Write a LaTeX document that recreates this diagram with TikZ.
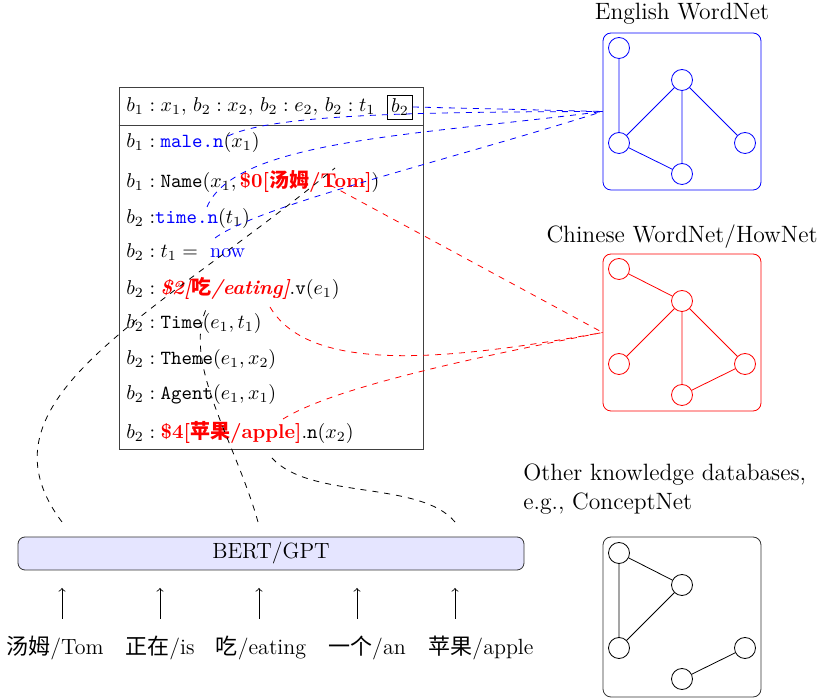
\documentclass[tikz,border=0pt]{standalone}
\usepackage{fontspec}
\newfontfamily\cjk{Noto Sans CJK SC}
\usetikzlibrary{calc}
\begin{document}
\begin{tikzpicture}[x=0.5pt,y=-0.5pt,
  gnode/.style={circle, draw, minimum size=10.5pt, inner sep=0pt},
  kbox/.style={draw, rounded corners=4pt, minimum width=79pt, minimum height=78.5pt},
  row/.style={anchor=west, inner sep=0pt, font=\fontsize{10}{12}\selectfont},
  lbl/.style={inner sep=0pt, font=\fontsize{11}{13.5}\selectfont},
  kbl/.style={inner sep=0pt, font=\fontsize{11.8}{14.2}\selectfont},
  blink/.style={draw=blue, dashed},
  rlink/.style={draw=red, dashed},
  klink/.style={draw=black, dashed},
  arr/.style={->}]
\useasboundingbox (0,0) rectangle (820,699);

% ---------- DRS box ----------
\node[draw=black!75, minimum width=152pt, minimum height=181pt, inner sep=0pt] (drs) at (271,268) {};
\draw[black!75] ($(drs.north west)+(0,39)$) coordinate (hl) -- ($(drs.north east)+(0,39)$) coordinate (hr);
\node[row] (hdr) at (126,107) {$b_1 : x_1, \, b_2 : x_2, \, b_2 : e_2, \, b_2 : t_1$};
\node[draw, inner sep=1.8pt, font=\fontsize{10}{12}\selectfont] (b2box) at (400,107) {$b_2$};

\node[row] (r1) at (126,143) {$b_1 : \textcolor{blue}{\texttt{male.n}}(x_1)$};
\node[row] (r2) at (126,182) {$b_1 : \texttt{Name}(x_1, \mbox{\color{red}\bfseries \$0[{\cjk\bfseries 汤姆}/Tom]})$};
\node[row] (r3) at (126,219) {$b_2\;{:}\textcolor{blue}{\texttt{time.n}}(t_1)$};
\node[row] (r4) at (126,252) {$b_2 : t_1 = {}$\ \textcolor{blue}{now}};
\node[row] (r5) at (126,288) {$b_2 : \mbox{\color{red}\bfseries\itshape \$2[{\cjk\bfseries 吃}/eating]}.\texttt{v}(e_1)$};
\node[row] (r6) at (126,324) {$b_2 : \texttt{Time}(e_1, t_1)$};
\node[row] (r7) at (126,360) {$b_2 : \texttt{Theme}(e_1, x_2)$};
\node[row] (r8) at (126,395) {$b_2 : \texttt{Agent}(e_1, x_1)$};
\node[row] (r9) at (126,432) {$b_2 : \mbox{\color{red}\bfseries \$4[{\cjk\bfseries 苹果}/apple]}.\texttt{n}(x_2)$};

% ---------- knowledge bases ----------
\node[kbl] (ewnl) at (682,14) {English WordNet};
\node[kbox, draw=blue] (ewn) at (682,111.5) {};
\begin{scope}[every node/.style={gnode, draw=blue}]
  \node (e1) at (619,48) {};
  \node (e2) at (682,80) {};
  \node (e3) at (619,143) {};
  \node (e4) at (745,143) {};
  \node (e5) at (682,174) {};
\end{scope}
\draw[blue] (e1) -- (e3) (e2) -- (e3) (e2) -- (e5) (e2) -- (e4) (e3) -- (e5);

\node[kbl] (cwnl) at (682,237) {Chinese WordNet/HowNet};
\node[kbox, draw=red] (cwn) at (682,332.5) {};
\begin{scope}[every node/.style={gnode, draw=red}]
  \node (c1) at (619,269) {};
  \node (c2) at (682,301) {};
  \node (c3) at (619,364) {};
  \node (c4) at (745,364) {};
  \node (c5) at (682,395) {};
\end{scope}
\draw[red] (c1) -- (c2) (c2) -- (c3) (c2) -- (c5) (c2) -- (c4) (c5) -- (c4);

\node[kbl, anchor=west, align=left] (okl) at (523,489) {Other knowledge databases,\\e.g., ConceptNet};
\node[kbox, draw=black!80, minimum height=80pt] (okb) at (682,617) {};
\begin{scope}[every node/.style={gnode, draw=black}]
  \node (o1) at (619,553) {};
  \node (o2) at (682,585) {};
  \node (o3) at (619,648) {};
  \node (o4) at (745,648) {};
  \node (o5) at (682,679) {};
\end{scope}
\draw (o1) -- (o2) (o1) -- (o3) (o2) -- (o3) (o5) -- (o4);

% ---------- BERT/GPT ----------
\node[draw=black!80, fill=blue!10, rounded corners=3.5pt, minimum width=253pt, minimum height=16.5pt, inner sep=0pt, font=\fontsize{11}{13.5}\selectfont] (bert) at (271,553.5) {BERT/GPT};

\node[lbl] (w1) at (55,648) {{\cjk 汤姆}/Tom};
\node[lbl] (w2) at (160,648) {{\cjk 正在}/is};
\node[lbl] (w3) at (261,648) {{\cjk 吃}/eating};
\node[lbl] (w4) at (367,648) {{\cjk 一个}/an};
\node[lbl] (w5) at (481,648) {{\cjk 苹果}/apple};

\foreach \i/\x in {1/62,2/160,3/259,4/357,5/455}{
  \coordinate (ab\i) at (\x,619);
  \coordinate (at\i) at (\x,588);
  \draw[arr] (ab\i) -- (at\i);
}

% ---------- link points ----------
\coordinate (pMale) at (228,136);
\coordinate (pTime) at (207,207);
\coordinate (pNow) at (215,238);
\coordinate (pTom) at (330,185);
\coordinate (pEat) at (270,307);
\coordinate (pApple) at (283,419);
\coordinate (kTom) at (335,168);
\coordinate (kEat) at (208,305);
\coordinate (kApple) at (272,458);
\coordinate (bA) at (62,522);
\coordinate (bB) at (258,522);
\coordinate (bC) at (455,522);

% blue links
\draw[blink] (b2box.east) -- (ewn.west);
\draw[blink] (pMale) .. controls (275,114) and (420,112) .. (ewn.west);
\draw[blink] (pTime) .. controls (235,140) and (420,135) .. (ewn.west);
\draw[blink] (pNow) .. controls (260,205) and (450,160) .. (ewn.west);

% red links
\draw[rlink] (pTom) -- (cwn.west);
\draw[rlink] (pEat) .. controls (310,375) and (450,360) .. (cwn.west);
\draw[rlink] (pApple) .. controls (330,390) and (450,362) .. (cwn.west);

% black links
\draw[klink] (bA) .. controls (-30,400) and (150,320) .. (kTom);
\draw[klink] (bB) .. controls (235,440) and (180,360) .. (kEat);
\draw[klink] (bC) .. controls (420,480) and (310,500) .. (kApple);
\end{tikzpicture}
\end{document}
